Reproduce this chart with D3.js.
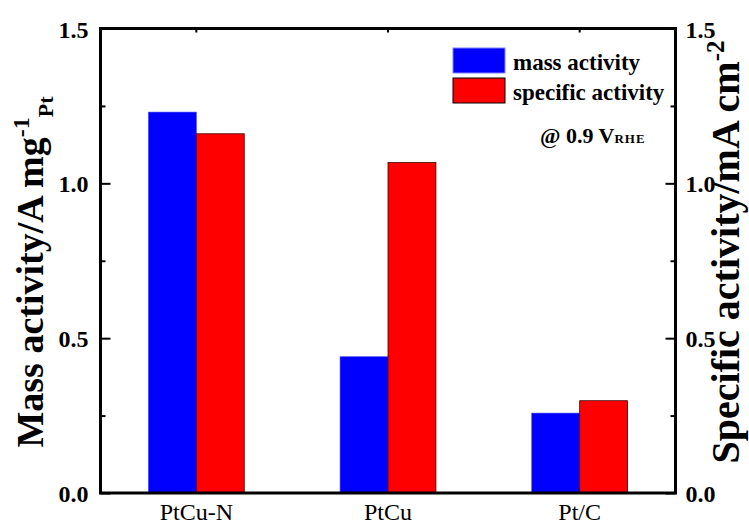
<!DOCTYPE html>
<html>
<head>
<meta charset="utf-8">
<script src="https://cdn.jsdelivr.net/npm/d3@7"></script>
<style>
  body { margin: 0; background: #fff; }
  text { font-family: "Liberation Serif", "Times New Roman", serif; }
</style>
</head>
<body>
<div id="chart"></div>
<script>
// data
var categories = ["PtCu-N", "PtCu", "Pt/C"];
var massActivity = [1.23, 0.44, 0.258];      // A mg-1 Pt
var specificActivity = [1.16, 1.067, 0.298]; // mA cm-2
var yTicks = [0.0, 0.5, 1.0, 1.5];
var yMinorTicks = [0.25, 0.75, 1.25];
var seriesNames = ["mass activity", "specific activity"];
var seriesColors = ["#0000ff", "#ff0000"];

var svgWidth = 749, svgHeight = 529;
var margin = { top: 28.5, right: 73.5, bottom: 36, left: 100.5 };
var w = svgWidth - margin.left - margin.right;
var h = svgHeight - margin.top - margin.bottom;

var svg = d3.select("#chart").append("svg")
    .attr("width", svgWidth)
    .attr("height", svgHeight);

var chart = svg.append("g")
    .attr("transform", "translate(" + margin.left + "," + margin.top + ")");

// scales
var xScale = d3.scaleBand().domain(categories).range([0, w]).padding(0);
var barW = xScale.bandwidth() * 0.25;
var yLeft = d3.scaleLinear().domain([0, 1.5]).range([h, 0]);
var yRight = d3.scaleLinear().domain([0, 1.5]).range([h, 0]);

// bars
var rows = categories.map(function (c, i) {
    return { cat: c, mass: massActivity[i], spec: specificActivity[i] };
});

chart.selectAll(".massBar")
    .data(rows)
    .enter().append("rect")
    .attr("class", "massBar")
    .attr("x", d => xScale(d.cat) + xScale.bandwidth() / 2 - barW)
    .attr("y", d => yLeft(d.mass))
    .attr("width", barW)
    .attr("height", d => h - yLeft(d.mass))
    .attr("fill", seriesColors[0])
    .attr("stroke", "#3a3aff")
    .attr("stroke-width", 0.6);

chart.selectAll(".specBar")
    .data(rows)
    .enter().append("rect")
    .attr("class", "specBar")
    .attr("x", d => xScale(d.cat) + xScale.bandwidth() / 2)
    .attr("y", d => yRight(d.spec))
    .attr("width", barW)
    .attr("height", d => h - yRight(d.spec))
    .attr("fill", seriesColors[1])
    .attr("stroke", "#400000")
    .attr("stroke-width", 0.8);

// axes
var fmt = d3.format(".1f");
function styleAxis(g) {
    g.select(".domain").remove();
    g.selectAll(".tick line").attr("stroke", "#000").attr("stroke-width", 2);
    g.selectAll(".tick text")
        .attr("font-family", "Liberation Serif, Times New Roman, serif")
        .attr("font-weight", "bold")
        .attr("font-size", "24px")
        .attr("fill", "#000");
}

chart.append("g")
    .call(d3.axisLeft(yLeft).tickValues(yTicks).tickFormat(fmt).tickSizeInner(-10).tickPadding(12))
    .call(styleAxis)
    .selectAll(".tick text").attr("dy", "0.36em");

chart.append("g")
    .call(d3.axisLeft(yLeft).tickValues(yMinorTicks).tickFormat("").tickSizeInner(-5))
    .call(styleAxis);

chart.append("g")
    .attr("transform", "translate(" + w + ",0)")
    .call(d3.axisRight(yRight).tickValues(yTicks).tickFormat(fmt).tickSizeInner(-10).tickPadding(10))
    .call(styleAxis)
    .selectAll(".tick text").attr("dy", "0.36em");

chart.append("g")
    .attr("transform", "translate(" + w + ",0)")
    .call(d3.axisRight(yRight).tickValues(yMinorTicks).tickFormat("").tickSizeInner(-5))
    .call(styleAxis);

var xAxisG = chart.append("g")
    .attr("transform", "translate(0," + h + ")")
    .call(d3.axisBottom(xScale).tickSize(0).tickPadding(10))
    .call(styleAxis);
xAxisG.selectAll(".tick text")
    .attr("font-weight", "normal")
    .attr("font-size", "24px")
    .attr("dy", "0.71em");

chart.append("g")
    .call(d3.axisTop(xScale).tickSizeInner(-4).tickFormat(""))
    .call(styleAxis);

// frame
chart.append("rect")
    .attr("x", 0).attr("y", 0)
    .attr("width", w).attr("height", h)
    .attr("fill", "none")
    .attr("stroke", "#000")
    .attr("stroke-width", 3);

// axis titles
var leftTitle = svg.append("text")
    .attr("transform", "translate(43," + 272 + ") rotate(-90)")
    .attr("text-anchor", "middle")
    .attr("font-weight", "bold")
    .attr("font-size", "38px")
    .attr("fill", "#000");
leftTitle.append("tspan").text("Mass activity/A mg");
leftTitle.append("tspan").attr("font-size", "24px").attr("dy", "-14").text("-1");
leftTitle.append("tspan").attr("font-size", "22px").attr("dy", "24").text("Pt");

var rightTitle = svg.append("text")
    .attr("transform", "translate(739," + 252 + ") rotate(-90)")
    .attr("text-anchor", "middle")
    .attr("font-weight", "bold")
    .attr("font-size", "40px")
    .attr("fill", "#000");
rightTitle.append("tspan").text("Specific activity/mA cm");
rightTitle.append("tspan").attr("font-size", "25px").attr("dy", "-15").text("-2");

// legend
var legend = svg.append("g").attr("transform", "translate(453,48)");
seriesNames.forEach(function (name, i) {
    legend.append("rect")
        .attr("x", 0).attr("y", i * 30)
        .attr("width", 52).attr("height", 25)
        .attr("fill", seriesColors[i])
        .attr("stroke", i == 0 ? "#8080ff" : "#000")
        .attr("stroke-width", 1);
    legend.append("text")
        .attr("x", 60).attr("y", i * 30 + 22)
        .attr("font-weight", "bold")
        .attr("font-size", "23px")
        .attr("fill", "#000")
        .text(name);
});

var note = svg.append("text")
    .attr("x", 540).attr("y", 143)
    .attr("font-weight", "bold")
    .attr("font-size", "22px")
    .attr("fill", "#000");
note.append("tspan").text("@ 0.9 V");
note.append("tspan").attr("font-size", "13px").attr("letter-spacing", "1px").text("RHE");
</script>
</body>
</html>
